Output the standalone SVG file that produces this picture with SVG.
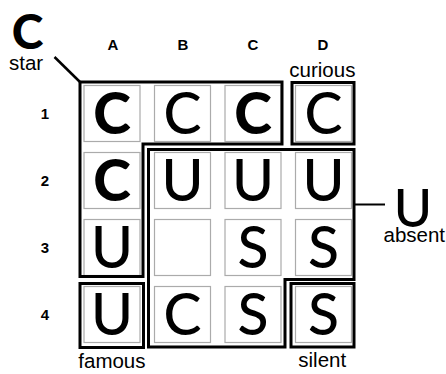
<svg xmlns="http://www.w3.org/2000/svg" width="446" height="374" viewBox="0 0 446 374">
<style>
.cell{fill:#fff;stroke:#ababab;stroke-width:1.2}
.box{fill:none;stroke:#000;stroke-width:3;stroke-linejoin:miter}
.conn{stroke:#000;stroke-width:2.5;fill:none}
.lt{font-family:Lato,"Open Sans",sans-serif;font-size:57px;text-anchor:middle;fill:#000;font-weight:500}
.lb{font-weight:900}
.hd{font-family:"Liberation Sans",Arial,sans-serif;font-size:15px;font-weight:bold;text-anchor:middle;fill:#000}
.lab{font-family:"Liberation Sans",Arial,sans-serif;font-size:20.5px;fill:#000}
</style>
<rect width="446" height="374" fill="#fff"/>
<g id="headers">
<text class="hd" x="113" y="50">A</text>
<text class="hd" x="183" y="50">B</text>
<text class="hd" x="253" y="50">C</text>
<text class="hd" x="323" y="50">D</text>
<text class="hd" x="45" y="119">1</text>
<text class="hd" x="45" y="186">2</text>
<text class="hd" x="45" y="253">3</text>
<text class="hd" x="45" y="320">4</text>
</g>
<g id="cells">
<rect class="cell" x="84" y="85.5" width="56" height="56"/>
<rect class="cell" x="154.5" y="85.5" width="56" height="56"/>
<rect class="cell" x="225" y="85.5" width="56" height="56"/>
<rect class="cell" x="295.5" y="85.5" width="56" height="56"/>
<rect class="cell" x="84" y="152.5" width="56" height="56"/>
<rect class="cell" x="154.5" y="152.5" width="56" height="56"/>
<rect class="cell" x="225" y="152.5" width="56" height="56"/>
<rect class="cell" x="295.5" y="152.5" width="56" height="56"/>
<rect class="cell" x="84" y="219.5" width="56" height="56"/>
<rect class="cell" x="154.5" y="219.5" width="56" height="56"/>
<rect class="cell" x="225" y="219.5" width="56" height="56"/>
<rect class="cell" x="295.5" y="219.5" width="56" height="56"/>
<rect class="cell" x="84" y="286.5" width="56" height="56"/>
<rect class="cell" x="154.5" y="286.5" width="56" height="56"/>
<rect class="cell" x="225" y="286.5" width="56" height="56"/>
<rect class="cell" x="295.5" y="286.5" width="56" height="56"/>
</g>
<g id="letters">
<text class="lt lb" x="112" y="134">C</text>
<text class="lt" x="182.5" y="134">C</text>
<text class="lt lb" x="253" y="134">C</text>
<text class="lt" x="323.5" y="134">C</text>
<text class="lt lb" x="112" y="201">C</text>
<text class="lt" x="182.5" y="201">U</text>
<text class="lt" x="253" y="201">U</text>
<text class="lt" x="323.5" y="201">U</text>
<text class="lt" x="112" y="268">U</text>
<text class="lt" x="253" y="268">S</text>
<text class="lt" x="323.5" y="268">S</text>
<text class="lt" x="112" y="335">U</text>
<text class="lt" x="182.5" y="335">C</text>
<text class="lt" x="253" y="335">S</text>
<text class="lt" x="323.5" y="335">S</text>
</g>
<g id="star">
<path class="box" d="M80,82 H282 V144 H143 V276.5 H80 Z"/>
<text x="27.5" y="49" style="font-family:Lato,sans-serif;font-size:48px;font-weight:900;text-anchor:middle">C</text>
<text class="lab" x="9" y="70">star</text>
</g>
<g id="curious">
<rect class="box" x="292" y="82.5" width="62" height="61.5"/>
<text class="lab" x="289.3" y="77">curious</text>
</g>
<g id="absent">
<path class="box" d="M148.5,149.5 H354 V279.5 H285 V347 H148.5 Z"/>
<text x="413" y="226.5" style="font-family:Lato,sans-serif;font-size:52px;font-weight:500;text-anchor:middle">U</text>
<text class="lab" x="383.5" y="242">absent</text>
</g>
<g id="famous">
<rect class="box" x="80" y="283.5" width="63.5" height="64"/>
<text class="lab" x="78.3" y="368">famous</text>
</g>
<g id="silent">
<rect class="box" x="291" y="283.5" width="63" height="63.5"/>
<text class="lab" x="298.3" y="367">silent</text>
</g>
<g id="connectors">
<line class="conn" x1="54.5" y1="57" x2="80" y2="82"/>
<line class="conn" x1="354" y1="204.5" x2="385" y2="204.5" style="stroke-width:2"/>
</g>
</svg>
